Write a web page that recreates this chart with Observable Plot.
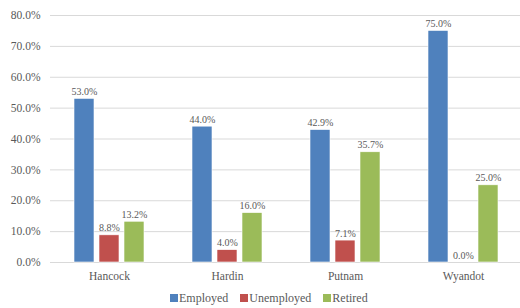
<!DOCTYPE html>
<html><head><meta charset="utf-8">
<script src="https://cdn.jsdelivr.net/npm/d3@7"></script>
<script src="https://cdn.jsdelivr.net/npm/@observablehq/plot@0.6"></script>
<style>
body{margin:0;background:#fff;font-family:"Liberation Serif",serif;}
#legend{display:flex;align-items:center;height:20px;padding-left:170px;font-size:12px;color:#595959;}
#legend .item{display:flex;align-items:center;margin-right:12px;}
#legend .sw{width:8px;height:8px;margin-right:1px;}
</style>
</head><body><div id="chart"></div><div id="legend"></div><script>
const counties = ["Hancock","Hardin","Putnam","Wyandot"];
const statuses = ["Employed","Unemployed","Retired"];
const employed = [53.0,44.0,42.9,75.0];
const unemployed = [8.8,4.0,7.1,0.0];
const retired = [13.2,16.0,35.7,25.0];
const yTicks = [0,10,20,30,40,50,60,70,80];
const colors = ["#4F81BD","#C0504D","#9BBB59"];
const series = [employed, unemployed, retired];
const data = counties.flatMap((c,i)=>statuses.map((s,j)=>({county:c,status:s,value:series[j][i]})));
const fmt = v => v.toFixed(1)+"%";
const plot = Plot.plot({
  width:520,height:288,marginLeft:49,marginRight:-3,marginTop:15,marginBottom:26,
  style:{fontFamily:"Liberation Serif",fontSize:"11.5px",color:"#595959",background:"white"},
  fx:{domain:counties,padding:0,label:null},
  x:{domain:statuses,paddingInner:0.19,paddingOuter:0.87,axis:null},
  y:{domain:[0,80],label:null},
  color:{domain:statuses,range:colors},
  marks:[
    Plot.gridY(yTicks,{stroke:"#d9d9d9",strokeOpacity:1,strokeWidth:1}),
    Plot.axisY(yTicks,{tickSize:0,tickPadding:10,tickFormat:fmt,label:null,fill:"#595959",fontSize:11.5}),
    Plot.axisFx({anchor:"bottom",tickSize:0,tickPadding:9,label:null,fill:"#595959",fontSize:11.5}),
    Plot.barY(data,{fx:"county",x:"status",y:"value",fill:"status",stroke:"white",strokeWidth:0.6}),
    Plot.text(data,{fx:"county",x:"status",y:"value",text:d=>fmt(d.value),lineAnchor:"bottom",dy:-4,fontSize:10,fill:"#595959"})
  ]
});
document.getElementById("chart").appendChild(plot);
const lg = document.getElementById("legend");
statuses.forEach((s,j)=>{
  const it=document.createElement("div");it.className="item";
  const sw=document.createElement("div");sw.className="sw";sw.style.background=colors[j];
  const t=document.createElement("span");t.textContent=s;
  it.appendChild(sw);it.appendChild(t);lg.appendChild(it);
});
</script></body></html>
